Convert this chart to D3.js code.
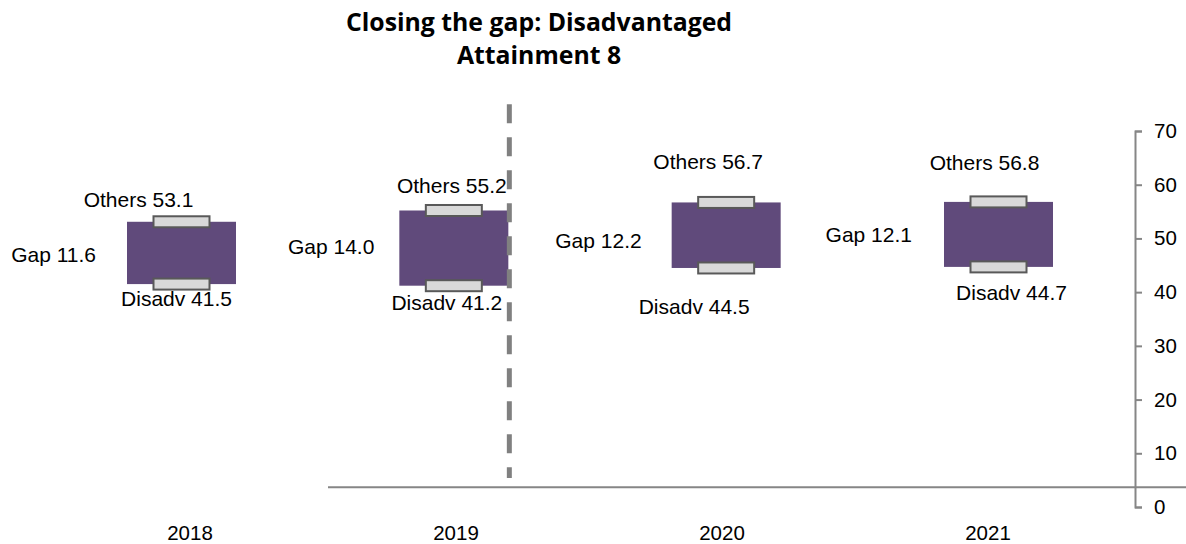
<!DOCTYPE html>
<html>
<head>
<meta charset="utf-8">
<script src="https://cdn.jsdelivr.net/npm/d3@7"></script>
<style>
  body { margin: 0; background: #fff; }
  svg { display: block; }
  text { font-family: "Liberation Sans", Arial, sans-serif; fill: #000; }
</style>
</head>
<body>
<svg id="chart" width="1186" height="544"></svg>
<script>
const years = ['2018', '2019', '2020', '2021'];
const others = [53.1, 55.2, 56.7, 56.8];
const disadv = [41.5, 41.2, 44.5, 44.7];
const gap = [11.6, 14.0, 12.2, 12.1];
const yTicks = [0, 10, 20, 30, 40, 50, 60, 70];

// manual label nudges (Excel-positioned labels), px
const othersNudge = [[-43, -22], [-2, -25], [-18, -41], [-14, -39]];
const disadvNudge = [[-5, 15], [-7, 17], [-32, 39], [13, 26]];
const gapNudge = [[-31, 2], [-25, -1], [-30, 5], [-32, 0]];

const width = 1186;
const height = 544;
const barW = 109;
const capW = 56;
const capH = 11;

const svg = d3.select('#chart');

const x = d3.scalePoint()
  .domain(years)
  .range([181.5, 998.5]);

const xLabel = d3.scalePoint()
  .domain(years)
  .range([190, 988]);

const y = d3.scaleLinear()
  .domain([0, 70])
  .range([507, 131]);

// Title
const title = svg.append('text')
  .attr('x', 539)
  .attr('text-anchor', 'middle')
  .style('font-family', '"Open Sans", Lato, sans-serif')
  .style('font-weight', 'bold')
  .style('font-size', '24.8px');
title.append('tspan').attr('x', 539).attr('y', 31).text('Closing the gap: Disadvantaged');
title.append('tspan').attr('x', 539).attr('y', 64).text('Attainment 8');

// horizontal category line
svg.append('line')
  .attr('x1', 328)
  .attr('x2', width)
  .attr('y1', y(3.7))
  .attr('y2', y(3.7))
  .attr('stroke', '#868686')
  .attr('stroke-width', 2);

// right value axis
const yAxis = svg.append('g')
  .attr('transform', `translate(1135,0)`)
  .call(d3.axisRight(y)
    .tickValues(yTicks)
    .tickSize(7)
    .tickSizeOuter(7)
    .tickPadding(12));
yAxis.select('.domain').attr('stroke', '#868686').attr('stroke-width', 2);
yAxis.selectAll('.tick line').attr('stroke', '#868686').attr('stroke-width', 2);
yAxis.selectAll('.tick text')
  .style('font-family', '"Liberation Sans", Arial, sans-serif')
  .style('font-size', '20.5px')
  .attr('fill', '#000');

// category labels
svg.append('g').selectAll('text')
  .data(years)
  .join('text')
  .attr('x', d => xLabel(d))
  .attr('y', 540)
  .attr('text-anchor', 'middle')
  .style('font-size', '20.5px')
  .text(d => d);

// boxes (Others to Disadv)
svg.append('g').selectAll('rect')
  .data(years)
  .join('rect')
  .attr('x', d => x(d) - barW / 2)
  .attr('y', (d, i) => y(others[i]))
  .attr('width', barW)
  .attr('height', (d, i) => y(disadv[i]) - y(others[i]))
  .attr('fill', '#604A7B');

// caps for high and low
const caps = years.flatMap((d, i) => [{ year: d, v: others[i] }, { year: d, v: disadv[i] }]);
svg.append('g').selectAll('rect')
  .data(caps)
  .join('rect')
  .attr('x', d => x(d.year) - capW / 2)
  .attr('y', d => y(d.v) - capH / 2)
  .attr('width', capW)
  .attr('height', capH)
  .attr('fill', '#D9D9D9')
  .attr('stroke', '#595959')
  .attr('stroke-width', 2);

// dashed divider
svg.append('line')
  .attr('x1', x('2019') + barW / 2 + 1)
  .attr('x2', x('2019') + barW / 2 + 1)
  .attr('y1', y(75))
  .attr('y2', y(5.4))
  .attr('stroke', '#808080')
  .attr('stroke-width', 5)
  .attr('stroke-dasharray', '19,14');

// data labels
const labels = svg.append('g').style('font-size', '21px');

labels.selectAll('.others')
  .data(years)
  .join('text')
  .attr('class', 'others')
  .attr('x', (d, i) => x(d) + othersNudge[i][0])
  .attr('y', (d, i) => y(others[i]) + othersNudge[i][1])
  .attr('dy', '0.35em')
  .attr('text-anchor', 'middle')
  .text((d, i) => `Others ${others[i].toFixed(1)}`);

labels.selectAll('.disadv')
  .data(years)
  .join('text')
  .attr('class', 'disadv')
  .attr('x', (d, i) => x(d) + disadvNudge[i][0])
  .attr('y', (d, i) => y(disadv[i]) + disadvNudge[i][1])
  .attr('dy', '0.35em')
  .attr('text-anchor', 'middle')
  .text((d, i) => `Disadv ${disadv[i].toFixed(1)}`);

labels.selectAll('.gap')
  .data(years)
  .join('text')
  .attr('class', 'gap')
  .attr('x', (d, i) => x(d) - barW / 2 + gapNudge[i][0])
  .attr('y', (d, i) => (y(others[i]) + y(disadv[i])) / 2 + gapNudge[i][1])
  .attr('dy', '0.35em')
  .attr('text-anchor', 'end')
  .text((d, i) => `Gap ${gap[i].toFixed(1)}`);
</script>
</body>
</html>
